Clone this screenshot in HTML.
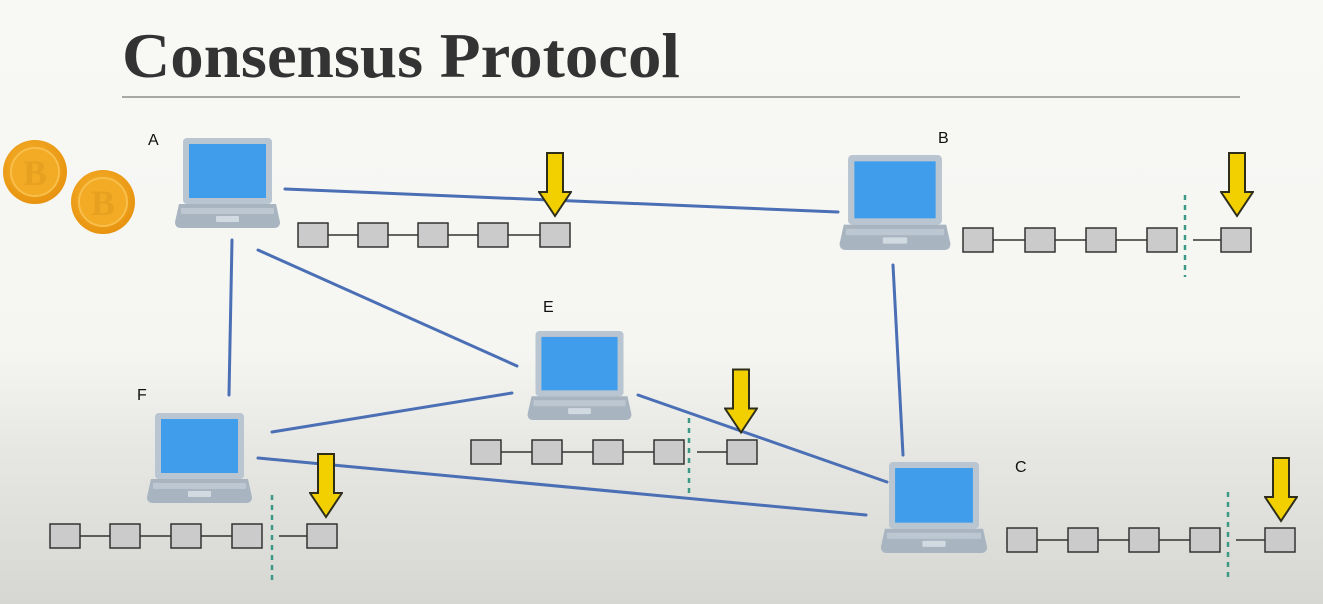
<!DOCTYPE html>
<html><head><meta charset="utf-8"><style>
html,body{margin:0;padding:0;width:1323px;height:604px;overflow:hidden;}
svg{display:block}
</style></head><body>
<svg width="1323" height="604" viewBox="0 0 1323 604" xmlns="http://www.w3.org/2000/svg">
<defs>
<linearGradient id="bg" x1="0" y1="0" x2="0" y2="1">
<stop offset="0" stop-color="#f8f8f5"/>
<stop offset="0.58" stop-color="#f5f5f2"/>
<stop offset="0.75" stop-color="#e6e6e2"/>
<stop offset="1" stop-color="#d6d6d2"/>
</linearGradient>
<symbol id="lap" viewBox="0 0 105 90">
<rect x="8" y="0" width="89" height="66" rx="4" fill="#b9c5d0"/>
<rect x="14" y="6" width="77" height="54" fill="#3f9deb"/>
<path d="M4 66 H101 L105 84 Q105 90 99 90 H6 Q0 90 0 84 Z" fill="#a8b5c1"/>
<rect x="6" y="70" width="93" height="6" fill="#bcc7d1"/>
<rect x="41" y="78" width="23" height="6" rx="1" fill="#d2dae1"/>
</symbol>
<symbol id="arr" viewBox="0 0 34 66">
<path d="M9 1 H25 V40 H33 L17 64 L1 40 H9 Z" fill="#f2d000" stroke="#2e2e1a" stroke-width="2"/>
</symbol>
<radialGradient id="coin" cx="0.45" cy="0.4" r="0.6">
<stop offset="0" stop-color="#f7b733"/><stop offset="1" stop-color="#e8930f"/>
</radialGradient>
</defs>
<rect width="1323" height="604" fill="url(#bg)"/>
<text x="122" y="77" font-family="Liberation Serif, serif" font-weight="bold" font-size="64" fill="#333" textLength="558" lengthAdjust="spacingAndGlyphs">Consensus Protocol</text>
<line x1="122" y1="97" x2="1240" y2="97" stroke="#a8a8a6" stroke-width="2"/>

<g font-family="Liberation Serif, serif" font-weight="bold" font-size="36" fill="#e8a020" text-anchor="middle">
<circle cx="35" cy="172" r="32" fill="url(#coin)"/><circle cx="35" cy="172" r="24" fill="#f3aa25" stroke="#f8bf4a" stroke-width="2"/>
<text x="35" y="185">B</text>
<circle cx="103" cy="202" r="32" fill="url(#coin)"/><circle cx="103" cy="202" r="24" fill="#f3aa25" stroke="#f8bf4a" stroke-width="2"/>
<text x="103" y="215">B</text>
</g>

<g stroke="#4a6fb5" stroke-width="3" stroke-linecap="round">
<line x1="285" y1="189" x2="838" y2="212"/>
<line x1="232" y1="240" x2="229" y2="395"/>
<line x1="258" y1="250" x2="517" y2="366"/>
<line x1="893" y1="265" x2="903" y2="455"/>
<line x1="272" y1="432" x2="512" y2="393"/>
<line x1="638" y1="395" x2="887" y2="482"/>
<line x1="258" y1="458" x2="866" y2="515"/>
</g>

<use href="#lap" x="175" y="138" width="105" height="90"/>
<use href="#lap" x="838" y="155" width="114" height="95"/>
<use href="#lap" x="527" y="331" width="105" height="89"/>
<use href="#lap" x="147" y="411" width="105" height="94"/>
<use href="#lap" x="880" y="462" width="108" height="91"/>

<g font-family="Liberation Sans, sans-serif" font-size="16" fill="#111">
<text x="148" y="145">A</text>
<text x="938" y="143">B</text>
<text x="543" y="312">E</text>
<text x="137" y="400">F</text>
<text x="1015" y="472">C</text>
</g>

<g stroke="#333" stroke-width="1.5">
<line x1="298" y1="235" x2="570" y2="235"/>
<g fill="#cbcbcb"><rect x="298" y="223" width="30" height="24"/><rect x="358" y="223" width="30" height="24"/><rect x="418" y="223" width="30" height="24"/><rect x="478" y="223" width="30" height="24"/><rect x="540" y="223" width="30" height="24"/></g>
<line x1="963" y1="240" x2="1176" y2="240"/><line x1="1193" y1="240" x2="1251" y2="240"/>
<g fill="#cbcbcb"><rect x="963" y="228" width="30" height="24"/><rect x="1025" y="228" width="30" height="24"/><rect x="1086" y="228" width="30" height="24"/><rect x="1147" y="228" width="30" height="24"/><rect x="1221" y="228" width="30" height="24"/></g>
<line x1="471" y1="452" x2="684" y2="452"/><line x1="697" y1="452" x2="757" y2="452"/>
<g fill="#cbcbcb"><rect x="471" y="440" width="30" height="24"/><rect x="532" y="440" width="30" height="24"/><rect x="593" y="440" width="30" height="24"/><rect x="654" y="440" width="30" height="24"/><rect x="727" y="440" width="30" height="24"/></g>
<line x1="50" y1="536" x2="262" y2="536"/><line x1="279" y1="536" x2="337" y2="536"/>
<g fill="#cbcbcb"><rect x="50" y="524" width="30" height="24"/><rect x="110" y="524" width="30" height="24"/><rect x="171" y="524" width="30" height="24"/><rect x="232" y="524" width="30" height="24"/><rect x="307" y="524" width="30" height="24"/></g>
<line x1="1007" y1="540" x2="1220" y2="540"/><line x1="1236" y1="540" x2="1295" y2="540"/>
<g fill="#cbcbcb"><rect x="1007" y="528" width="30" height="24"/><rect x="1068" y="528" width="30" height="24"/><rect x="1129" y="528" width="30" height="24"/><rect x="1190" y="528" width="30" height="24"/><rect x="1265" y="528" width="30" height="24"/></g>
</g>

<g stroke="#3a9a86" stroke-width="2.5" stroke-dasharray="5,5">
<line x1="1185" y1="195" x2="1185" y2="277"/>
<line x1="689" y1="418" x2="689" y2="497"/>
<line x1="272" y1="495" x2="272" y2="582"/>
<line x1="1228" y1="492" x2="1228" y2="580"/>
</g>

<use href="#arr" x="538" y="152" width="34" height="66"/>
<use href="#arr" x="1220" y="152" width="34" height="66"/>
<use href="#arr" x="724" y="368" width="34" height="67"/>
<use href="#arr" x="309" y="453" width="34" height="66"/>
<use href="#arr" x="1264" y="457" width="34" height="66"/>
</svg>
</body></html>
